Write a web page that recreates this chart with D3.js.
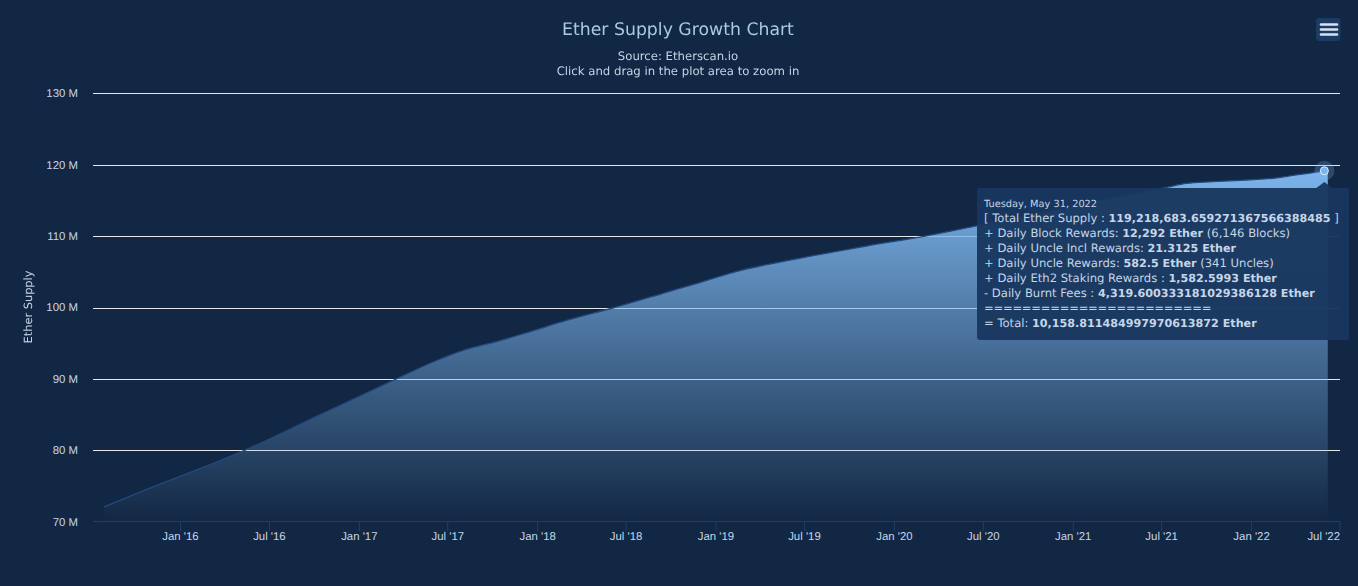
<!DOCTYPE html>
<html>
<head>
<meta charset="utf-8">
<title>Ether Supply Growth Chart</title>
<script src="https://cdn.jsdelivr.net/npm/d3@7"></script>
<style>
  html, body { margin: 0; padding: 0; background: #122743; }
  svg { display: block; font-family: "DejaVu Sans", sans-serif; text-rendering: geometricPrecision; }
  .axis path { display: none; }
  .axis text { fill: #c6d5e7; font-size: 11.4px; }
  .axis, .labels { opacity: 0.999; }
</style>
</head>
<body>
<div id="chart"></div>
<script>
// values, in millions of ether
const dates = ["2015-07-30", "2015-10-30", "2016-03-18", "2016-05-12", "2016-10-13", "2017-03-17",
  "2017-06-01", "2017-08-09", "2017-10-16", "2017-12-23", "2018-03-02", "2018-06-05", "2018-09-23",
  "2018-11-30", "2019-02-05", "2019-06-22", "2019-11-06", "2020-02-29", "2020-06-18", "2020-11-15",
  "2021-02-26", "2021-05-19", "2021-07-12", "2021-08-22", "2021-10-15", "2021-12-23", "2022-02-15",
  "2022-04-04", "2022-05-15", "2022-05-31", "2022-06-07"];
const supply = [72.15, 74.73, 78.47, 80.05, 85.03, 90.0,
  92.4, 94.2, 95.4, 96.8, 98.25, 100.0, 102.2,
  103.57, 104.97, 106.96, 108.68, 110.0, 111.5, 113.6,
  115.1, 116.2, 116.9, 117.46, 117.69, 117.93, 118.16,
  118.65, 119.02, 119.22, 119.3];
const yTicks = [70, 80, 90, 100, 110, 120, 130];
const xTicks = ["2016-01-01", "2016-07-01", "2017-01-01", "2017-07-01", "2018-01-01", "2018-07-01",
  "2019-01-01", "2019-07-01", "2020-01-01", "2020-07-01", "2021-01-01", "2021-07-01", "2022-01-01", "2022-07-01"];
const hoverDate = "2022-05-31";
const hoverValue = 119.22;
const tooltipDate = "Tuesday, May 31, 2022";
// each line is a list of [text, bold]
const tooltipLines = [
  [["[ Total Ether Supply : ", 0], ["119,218,683.659271367566388485", 1], [" ]", 0]],
  [["+ Daily Block Rewards: ", 0], ["12,292 Ether", 1], [" (6,146 Blocks)", 0]],
  [["+ Daily Uncle Incl Rewards: ", 0], ["21.3125 Ether", 1]],
  [["+ Daily Uncle Rewards: ", 0], ["582.5 Ether", 1], [" (341 Uncles)", 0]],
  [["+ Daily Eth2 Staking Rewards : ", 0], ["1,582.5993 Ether", 1]],
  [["- Daily Burnt Fees : ", 0], ["4,319.600333181029386128 Ether", 1]],
  [["========================", 0]],
  [["= Total: ", 0], ["10,158.811484997970613872 Ether", 1]]
];

const width = 1358, height = 586;
const parse = d3.utcParse("%Y-%m-%d");
const data = dates.map((d, i) => ({ date: parse(d), value: supply[i] }));

const x = d3.scaleUtc()
  .domain([parse("2015-07-07"), parse("2022-07-01")])
  .range([93, 1339.5]);
const y = d3.scaleLinear().domain([70, 130]).range([522.2, 93.8]);

const svg = d3.select("#chart").append("svg")
  .attr("width", width)
  .attr("height", height);

const grad = svg.append("defs").append("linearGradient")
  .attr("id", "areaFill")
  .attr("x1", 0).attr("y1", 0).attr("x2", 0).attr("y2", 1);
grad.append("stop").attr("offset", 0).attr("stop-color", "#7cb5ec").attr("stop-opacity", 1);
grad.append("stop").attr("offset", 1).attr("stop-color", "#7cb5ec").attr("stop-opacity", 0);

// title block
const labels = svg.append("g").attr("class", "labels");
labels.append("text").attr("x", 678).attr("y", 35)
  .attr("text-anchor", "middle").attr("font-size", 17.3).attr("fill", "#a9cbe4")
  .text("Ether Supply Growth Chart");
labels.append("text").attr("x", 678).attr("y", 60)
  .attr("text-anchor", "middle").attr("font-size", 11.7).attr("fill", "#c6d5e7")
  .text("Source: Etherscan.io");
labels.append("text").attr("x", 678).attr("y", 75)
  .attr("text-anchor", "middle").attr("font-size", 11.7).attr("fill", "#c6d5e7")
  .text("Click and drag in the plot area to zoom in");

// gridlines
svg.append("g").selectAll("line")
  .data(yTicks.slice(1))
  .enter().append("line")
  .attr("x1", 93).attr("x2", 1340)
  .attr("y1", d => Math.floor(y(d)) + 0.5)
  .attr("y2", d => Math.floor(y(d)) + 0.5)
  .attr("stroke", "#e6e6e6");

// area and line
const area = d3.area()
  .x(d => x(d.date))
  .y0(y(70))
  .y1(d => y(d.value))
  .curve(d3.curveMonotoneX);
const line = d3.line()
  .x(d => x(d.date))
  .y(d => y(d.value))
  .curve(d3.curveMonotoneX);

svg.append("path").datum(data).attr("d", area).attr("fill", "url(#areaFill)");
svg.append("path").datum(data).attr("d", line)
  .attr("fill", "none").attr("stroke", "#214a80").attr("stroke-width", 1.3);

// axes
const xAxis = svg.append("g").attr("class", "axis")
  .attr("transform", "translate(0,521)")
  .call(d3.axisBottom(x)
    .tickValues(xTicks.map(parse))
    .tickFormat(d3.utcFormat("%b '%y"))
    .tickSize(10));
xAxis.selectAll("line").attr("stroke", "#1f3f6b");
xAxis.selectAll("text").attr("y", 19).attr("dy", 0);
xAxis.selectAll("text").filter((d, i) => i === xTicks.length - 1).attr("text-anchor", "end");
svg.append("line")
  .attr("x1", 93).attr("x2", 1340).attr("y1", 521.5).attr("y2", 521.5)
  .attr("stroke", "#1f3f6b");

svg.append("g").attr("class", "axis")
  .attr("transform", "translate(78,-0.8)")
  .call(d3.axisLeft(y).tickValues(yTicks).tickFormat(d => d + " M").tickSize(0).tickPadding(0))
  .selectAll("line").remove();

labels.append("text")
  .attr("transform", "translate(32,307) rotate(-90)")
  .attr("text-anchor", "middle").attr("font-size", 11.4).attr("fill", "#c6d5e7")
  .text("Ether Supply");

// hovered point
const hx = x(parse(hoverDate)), hy = y(hoverValue);
svg.append("circle").attr("cx", hx).attr("cy", hy).attr("r", 10)
  .attr("fill", "#7cb5ec").attr("fill-opacity", 0.25);
svg.append("circle").attr("cx", hx).attr("cy", hy).attr("r", 4)
  .attr("fill", "#7cb5ec").attr("stroke", "#e6eef7").attr("stroke-width", 1);

// tooltip
const tipX0 = 977, tipX1 = 1349, tipY0 = 188, tipY1 = 340, r = 3;
svg.append("path")
  .attr("d", `M${tipX0 + r},${tipY0} L${hx - 8},${tipY0} L${hx},${tipY0 - 6} L${hx + 8},${tipY0}
    L${tipX1 - r},${tipY0} Q${tipX1},${tipY0} ${tipX1},${tipY0 + r} L${tipX1},${tipY1 - r}
    Q${tipX1},${tipY1} ${tipX1 - r},${tipY1} L${tipX0 + r},${tipY1} Q${tipX0},${tipY1} ${tipX0},${tipY1 - r}
    L${tipX0},${tipY0 + r} Q${tipX0},${tipY0} ${tipX0 + r},${tipY0} Z`)
  .attr("fill", "#19375f").attr("fill-opacity", 0.96);

const tipText = svg.append("g").attr("class", "labels");
tipText.append("text").attr("x", 984).attr("y", 207)
  .attr("font-size", 9.8).attr("fill", "#c6d5e7")
  .text(tooltipDate);

tooltipLines.forEach((parts, i) => {
  const t = tipText.append("text").attr("x", 984).attr("y", 222 + i * 15)
    .attr("font-size", 11.6).attr("fill", "#c6d5e7").attr("xml:space", "preserve");
  parts.forEach(p => {
    t.append("tspan")
      .attr("font-weight", p[1] ? "bold" : "normal")
      .attr("font-size", p[1] ? 11.15 : 11.6)
      .attr("letter-spacing", p[0].startsWith("==") ? -0.25 : null)
      .text(p[0]);
  });
});

// menu button
svg.append("rect").attr("x", 1316).attr("y", 18).attr("width", 24.5).attr("height", 23).attr("rx", 3)
  .attr("fill", "#1c3a63");
svg.append("g").selectAll("line")
  .data([24.5, 29.5, 34.5])
  .enter().append("line")
  .attr("x1", 1321).attr("x2", 1337)
  .attr("y1", d => d).attr("y2", d => d)
  .attr("stroke", "#d6e3ef").attr("stroke-width", 2.6).attr("stroke-linecap", "round");
</script>
</body>
</html>
